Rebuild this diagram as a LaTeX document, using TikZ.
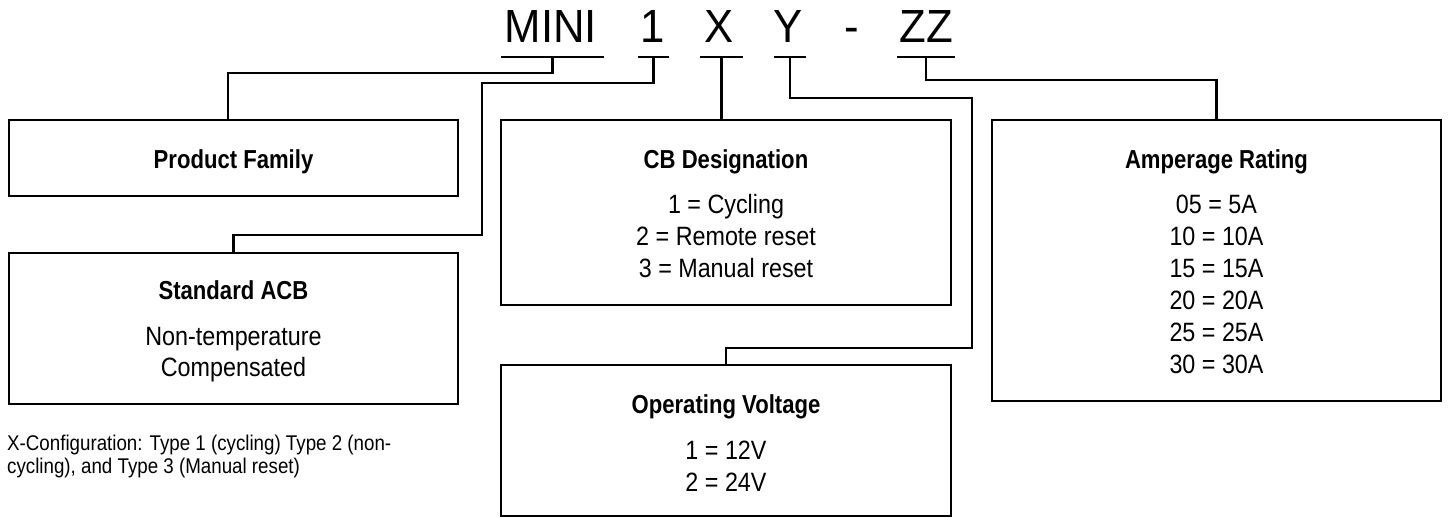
\documentclass[tikz,border=0pt]{standalone}
\usepackage{fontspec}
\setmainfont{Liberation Sans}[FakeStretch=0.88, BoldFeatures={FakeStretch=0.85}]
\newfontfamily\hdrfont{Liberation Sans}[FakeStretch=0.94]
\begin{document}
\begin{tikzpicture}[x=1pt,y=-1pt,
  box/.style={draw, line width=2.6pt, anchor=north west, inner sep=0pt, outer sep=0pt},
  conn/.style={line width=2.6pt},
  uline/.style={line width=2.6pt},
  hdr/.style={anchor=base, inner sep=0pt, font=\hdrfont\fontsize{46.5}{50}\selectfont},
  ttl/.style={anchor=base, inner sep=0pt, font=\fontsize{26}{30}\selectfont\bfseries},
  itm/.style={anchor=base, inner sep=0pt, font=\fontsize{26.5}{30}\selectfont},
  note/.style={anchor=base west, inner sep=0pt, font=\fontsize{21.3}{25}\selectfont}]
\useasboundingbox (0,0) rectangle (1449,518);

% header
\node[hdr] (hM) at (551,43) {MINI};
\node[hdr] (h1) at (652.5,43) {1};
\node[hdr] (hX) at (719.5,43) {X};
\node[hdr] (hY) at (788.5,43) {Y};
\node[hdr] (hD) at (852,43) {-};
\node[hdr] (hZ) at (926,43) {ZZ};

% underlines
\coordinate (uM) at (552.5,57);
\coordinate (u1) at (653.5,57);
\coordinate (uX) at (721.5,57);
\coordinate (uY) at (790,57);
\coordinate (uZ) at (926,57);
\draw[uline] ([xshift=-51.5pt]uM) -- ([xshift=51.5pt]uM);
\draw[uline] ([xshift=-15.5pt]u1) -- ([xshift=15.5pt]u1);
\draw[uline] ([xshift=-21.5pt]uX) -- ([xshift=21.5pt]uX);
\draw[uline] ([xshift=-16pt]uY) -- ([xshift=16pt]uY);
\draw[uline] ([xshift=-29pt]uZ) -- ([xshift=29pt]uZ);

% boxes
\node[box, minimum width=449pt, minimum height=76pt] (pf) at (9,120) {};
\node[box, minimum width=449pt, minimum height=151pt] (acb) at (9,253) {};
\node[box, minimum width=450pt, minimum height=185pt] (cb) at (501,120) {};
\node[box, minimum width=450pt, minimum height=151pt] (ov) at (501,365) {};
\node[box, minimum width=449pt, minimum height=281pt] (amp) at (992,120) {};

% box texts
\node[ttl] (pft) at (233.5,169) {Product Family};

\node[ttl] (acbt) at (233.5,300) {Standard ACB};
\node[itm] (acb1) at (233.5,345.5) {Non-temperature};
\node[itm] (acb2) at (233.5,376.5) {Compensated};

\node[ttl] (cbt) at (726,169) {CB Designation};
\node[itm] (cb1) at (726,214) {1 = Cycling};
\node[itm] (cb2) at (726,246) {2 = Remote reset};
\node[itm] (cb3) at (726,278) {3 = Manual reset};

\node[ttl] (ovt) at (726,414) {Operating Voltage};
\node[itm] (ov1) at (726,460) {1 = 12V};
\node[itm] (ov2) at (726,492) {2 = 24V};

\node[ttl] (ampt) at (1216.5,169) {Amperage Rating};
\node[itm] (amp1) at (1216.5,214) {05 = 5A};
\node[itm] (amp2) at (1216.5,246) {10 = 10A};
\node[itm] (amp3) at (1216.5,278) {15 = 15A};
\node[itm] (amp4) at (1216.5,310) {20 = 20A};
\node[itm] (amp5) at (1216.5,342) {25 = 25A};
\node[itm] (amp6) at (1216.5,374) {30 = 30A};

% footnote
\node[note] (fn1) at (7,450) {X-Configuration: Type 1 (cycling) Type 2 (non-};
\node[note] (fn2) at (7,474) {cycling), and Type 3 (Manual reset)};

% connectors
\coordinate (m1) at (552.5,73);
\coordinate (m2) at (228,73);
\draw[conn] (uM) -- (m1) -- (m2) -- (m2 |- pf.north);

\coordinate (a1) at (653.5,83);
\coordinate (a2) at (482,83);
\coordinate (a3) at (482,235);
\coordinate (a4) at (233.5,235);
\draw[conn] (u1) -- (a1) -- (a2) -- (a3) -- (a4) -- (acb.north);

\draw[conn] (uX) -- (uX |- cb.north);

\coordinate (y1) at (790,98);
\coordinate (y2) at (972,98);
\coordinate (y3) at (972,348);
\coordinate (y4) at (726,348);
\draw[conn] (uY) -- (y1) -- (y2) -- (y3) -- (y4) -- (ov.north);

\coordinate (z1) at (926,80);
\coordinate (z2) at (1216.5,80);
\draw[conn] (uZ) -- (z1) -- (z2) -- (amp.north);
\end{tikzpicture}
\end{document}
